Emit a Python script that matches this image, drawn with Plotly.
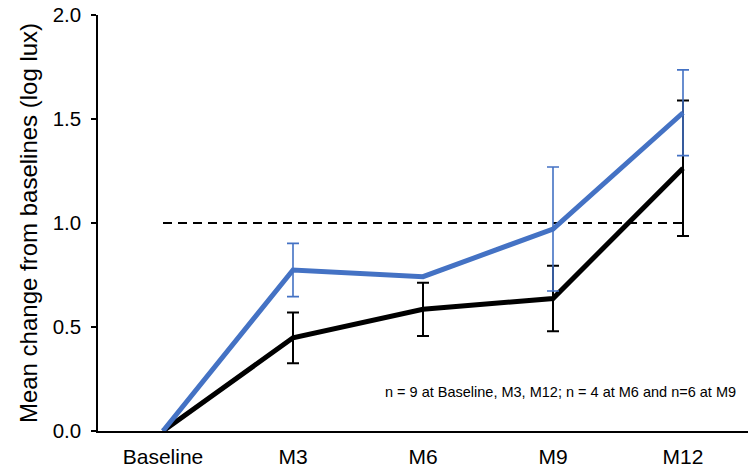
import plotly.graph_objects as go

categories = ["Baseline", "M3", "M6", "M9", "M12"]
blue_vals = [0.0, 0.774, 0.742, 0.971, 1.530]
black_vals = [0.0, 0.448, 0.585, 0.637, 1.263]
ref_vals = [1.0, 1.0, 1.0, 1.0, 1.0]

blue_err_cats = ["M3", "M9", "M12"]
blue_err_means = [0.774, 0.971, 1.530]
blue_err = [0.128, 0.298, 0.206]

black_err_cats = ["M3", "M6", "M9", "M12"]
black_err_means = [0.448, 0.585, 0.637, 1.263]
black_err = [0.122, 0.128, 0.157, 0.326]

y_ticks = [0.0, 0.5, 1.0, 1.5, 2.0]
y_tick_labels = ["0.0", "0.5", "1.0", "1.5", "2.0"]

note_text = "n = 9 at Baseline, M3, M12; n = 4 at M6 and n=6 at M9"
y_title = "Mean change from baselines (log lux)"

BLUE = "#4472C4"
FONT = "Liberation Sans, Arial, sans-serif"

idx = {c: i for i, c in enumerate(categories)}

fig = go.Figure()

fig.add_trace(go.Scatter(
    x=[idx[c] for c in categories], y=ref_vals, mode="lines",
    line=dict(color="black", width=2, dash="9px,6px"),
    hoverinfo="skip", showlegend=False))

fig.add_trace(go.Scatter(
    x=[idx[c] for c in categories], y=black_vals, mode="lines",
    line=dict(color="black", width=5), showlegend=False))

fig.add_trace(go.Scatter(
    x=[idx[c] for c in black_err_cats], y=black_err_means, mode="markers",
    marker=dict(size=0.1, color="rgba(0,0,0,0)"),
    error_y=dict(type="data", array=black_err, visible=True,
                 color="black", thickness=2, width=6),
    showlegend=False))

fig.add_trace(go.Scatter(
    x=[idx[c] for c in categories], y=blue_vals, mode="lines",
    line=dict(color=BLUE, width=5), showlegend=False))

fig.add_trace(go.Scatter(
    x=[idx[c] for c in blue_err_cats], y=blue_err_means, mode="markers",
    marker=dict(size=0.1, color="rgba(0,0,0,0)"),
    error_y=dict(type="data", array=blue_err, visible=True,
                 color=BLUE, thickness=1.6, width=6),
    showlegend=False))

fig.add_annotation(
    x=0.4385, xref="paper", y=0.1875, yref="y",
    text=note_text, showarrow=False, xanchor="left", yanchor="middle",
    font=dict(family=FONT, size=14.5, color="black"))

fig.update_layout(
    width=748, height=467,
    margin=dict(l=98, r=0, t=15, b=36, autoexpand=False),
    plot_bgcolor="white", paper_bgcolor="white",
    font=dict(family=FONT, color="black"),
    showlegend=False,
)

fig.update_xaxes(
    range=[-0.5, 4.5],
    tickmode="array", tickvals=list(range(len(categories))), ticktext=categories,
    showline=True, linecolor="black", linewidth=1.5,
    ticks="", showgrid=False, zeroline=False,
    tickfont=dict(family=FONT, size=21, color="black"),
    ticklabelstandoff=6,
)

fig.update_yaxes(
    range=[0, 2.0],
    tickmode="array", tickvals=y_ticks, ticktext=y_tick_labels,
    showline=True, linecolor="black", linewidth=1.5,
    ticks="outside", ticklen=5, tickwidth=1.5, tickcolor="black",
    showgrid=False, zeroline=False,
    tickfont=dict(family=FONT, size=20.5, color="black"),
    ticklabelstandoff=6,
    title=dict(text=y_title, font=dict(family=FONT, size=24, color="black"), standoff=8),
)

fig.write_html("out.html")
